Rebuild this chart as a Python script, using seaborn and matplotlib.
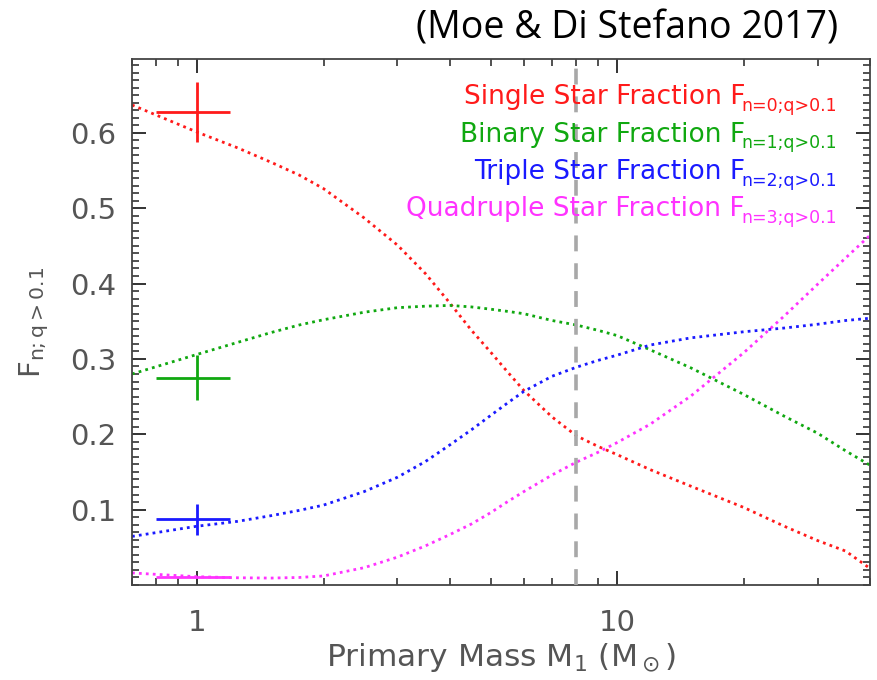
import numpy as np
import pandas as pd
import matplotlib
matplotlib.use("Agg")
import matplotlib.pyplot as plt
import seaborn as sns
from matplotlib.ticker import MultipleLocator, FixedLocator, NullFormatter, LogLocator

# ---------------- data ----------------
mass = [0.7, 1.0, 1.25, 1.5, 1.75, 2.0, 2.5, 3.0, 3.5, 4.0, 4.5, 5.0, 5.5, 6.0,
        7.0, 8.0, 9.0, 10.0, 12.0, 15.0, 20.0, 25.0, 30.0, 35.0, 40.0]
single = [0.637, 0.601, 0.580, 0.561, 0.544, 0.526, 0.487, 0.451, 0.413, 0.374,
          0.338, 0.309, 0.282, 0.258, 0.223, 0.198, 0.184, 0.173, 0.153, 0.131,
          0.103, 0.078, 0.059, 0.045, 0.022]
binary = [0.280, 0.306, 0.322, 0.335, 0.345, 0.352, 0.362, 0.368, 0.370, 0.371,
          0.369, 0.366, 0.363, 0.360, 0.351, 0.345, 0.338, 0.331, 0.312, 0.288,
          0.253, 0.224, 0.2015, 0.178, 0.159]
triple = [0.0645, 0.078, 0.0845, 0.092, 0.099, 0.106, 0.124, 0.143, 0.164, 0.186,
          0.206, 0.225, 0.242, 0.257, 0.277, 0.289, 0.298, 0.305, 0.3185, 0.328,
          0.336, 0.341, 0.346, 0.351, 0.354]
quadruple = [0.016, 0.011, 0.0096, 0.0092, 0.010, 0.012, 0.023, 0.037, 0.052, 0.067,
             0.081, 0.096, 0.111, 0.124, 0.146, 0.163, 0.176, 0.189, 0.2135, 0.251,
             0.308, 0.357, 0.399, 0.434, 0.464]

series_names = ["Single", "Binary", "Triple", "Quadruple"]
series_values = [single, binary, triple, quadruple]
series_colors = ["#ff1a1a", "#10a810", "#1a1aff", "#ff33ff"]
legend_main = ["Single Star Fraction F", "Binary Star Fraction F",
               "Triple Star Fraction F", "Quadruple Star Fraction F"]
legend_sub = ["n=0;q>0.1", "n=1;q>0.1", "n=2;q>0.1", "n=3;q>0.1"]

# solar-type reference measurements with error bars
ref_mass = 1.0
ref_mass_lo = 0.8
ref_mass_hi = 1.2
ref_frac = [0.628, 0.275, 0.087, 0.010]
ref_err = [0.04, 0.03, 0.02, 0.0]

divider_mass = 8.0

y_ticks = [0.1, 0.2, 0.3, 0.4, 0.5, 0.6]
y_tick_labels = ["0.1", "0.2", "0.3", "0.4", "0.5", "0.6"]
x_ticks = [1, 10]
x_tick_labels = ["1", "10"]

# ---------------- figure ----------------
sns.set_theme(style="ticks")
plt.rcParams["font.family"] = ["DejaVu Sans"]
plt.rcParams["mathtext.default"] = "regular"

W, H = 877, 680
fig = plt.figure(figsize=(W / 100, H / 100), dpi=100)
ax = fig.add_axes([132 / W, 1 - 585 / H, (870 - 132) / W, (585 - 59) / H])

df = pd.DataFrame({"mass": mass})
for name, vals in zip(series_names, series_values):
    df[name] = vals
long = df.melt(id_vars="mass", var_name="kind", value_name="frac")

for name, color in zip(series_names, series_colors):
    sub = long[long["kind"] == name]
    sns.lineplot(data=sub, x="mass", y="frac", ax=ax, color=color,
                 linewidth=2.0, linestyle=(0, (1, 1.5)),
                 estimator=None, sort=False, legend=False)

for f, e, color in zip(ref_frac, ref_err, series_colors):
    ax.errorbar([ref_mass], [f],
                xerr=[[ref_mass - ref_mass_lo], [ref_mass_hi - ref_mass]],
                yerr=[[e], [e]], color=color, lw=2.0, capsize=0, fmt="none")

ax.axvline(divider_mass, color="#a8a8a8", lw=2.6, dashes=(4.4, 3.3), zorder=5)

ax.set_xscale("log")
ax.set_xlim(0.70, 40)
ax.set_ylim(0.0, 0.698)

ax.xaxis.set_major_locator(FixedLocator(x_ticks))
ax.set_xticklabels(x_tick_labels)
ax.xaxis.set_minor_locator(LogLocator(base=10, subs=np.arange(2, 10)))
ax.xaxis.set_minor_formatter(NullFormatter())
ax.set_yticks(y_ticks)
ax.set_yticklabels(y_tick_labels)
ax.yaxis.set_minor_locator(MultipleLocator(0.01))

tick_col = "#333333"
ax.tick_params(which="both", direction="in", top=True, right=True, color=tick_col)
ax.tick_params(which="major", length=10, width=1.4)
ax.tick_params(which="minor", length=5, width=1.2)
ax.tick_params(axis="y", which="major", labelsize=21, labelcolor="#555555", pad=11)
ax.tick_params(axis="x", which="major", labelsize=21, labelcolor="#555555", pad=17)

for s in ax.spines.values():
    s.set_color("#444444")
    s.set_linewidth(1.3)

ax.set_xlabel(r"Primary Mass M$_1$ (M$_\odot$)", fontsize=22.5, color="#555555", labelpad=3)
ax.set_ylabel(r"F$_{n;q{>}0.1}$", fontsize=21, color="#555555", labelpad=14)

baselines = [104, 141.5, 179, 216.5]
for main, sub, color, yb in zip(legend_main, legend_sub, series_colors, baselines):
    fig.text(745 / W, 1 - yb / H, main, color=color, fontsize=19,
             ha="right", va="baseline", zorder=3)
    fig.text(837 / W, 1 - (yb + 7) / H, sub, color=color, fontsize=12.5,
             ha="right", va="baseline", zorder=3)

fig.text(838 / W, 1 - 29 / H, "(Moe & Di Stefano 2017)", fontsize=27,
         family=["Open Sans", "DejaVu Sans"], color="black", ha="right", va="center")

fig.savefig("out.png", dpi=100)
